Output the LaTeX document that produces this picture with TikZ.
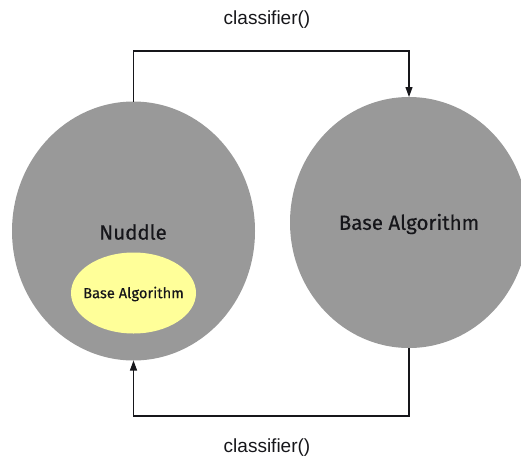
\documentclass[tikz,border=0pt]{standalone}
\usepackage{fontspec}
\setmainfont{Liberation Sans}
\newfontfamily\labelfont[FakeBold=0.35]{Fira Sans}
\usetikzlibrary{arrows.meta}
\definecolor{bubble}{RGB}{153,153,153}
\definecolor{inner}{RGB}{255,255,153}
\definecolor{ink}{RGB}{22,22,26}
\tikzset{
  link/.style={draw=ink, line width=1.1pt, -{Triangle[length=10pt,width=7pt]}},
  caption/.style={font=\fontsize{19}{22}\selectfont, text=ink},
  bubbletext/.style={font=\labelfont\fontsize{20.5}{24}\selectfont, text=ink},
}
\begin{document}
\begin{tikzpicture}[x=1pt,y=-1pt]
  \useasboundingbox (0,0) rectangle (521,460);
  \clip (0,0) rectangle (521,460);
  % the two classifier bubbles
  \fill[bubble] (133.5,231) ellipse [x radius=121.5, y radius=129.5];
  \fill[bubble] (409,222.5) ellipse [x radius=119, y radius=125.5];
  \fill[inner] (133.5,293) ellipse [x radius=62.5, y radius=40.5];
  \coordinate (ltop) at (133.5,101.5);
  \coordinate (lbot) at (133.5,360.5);
  \coordinate (rtop) at (409,97);
  \coordinate (rbot) at (409,348);
  \node[bubbletext] (nuddle) at (133,232) {Nuddle};
  \node[bubbletext] (base) at (409,224) {Base Algorithm};
  \node[font=\labelfont\fontsize{14.7}{17}\selectfont, text=ink] (inbase) at (133.5,294) {Base Algorithm};
  % calls between the two
  \draw[link] (ltop) -- (133.5,51) -| (rtop);
  \draw[link] (rbot) -- (409,416) -| (lbot);
  \node[caption] (ctop) at (267,20) {classifier()};
  \node[caption] (cbot) at (267,448) {classifier()};
\end{tikzpicture}
\end{document}
